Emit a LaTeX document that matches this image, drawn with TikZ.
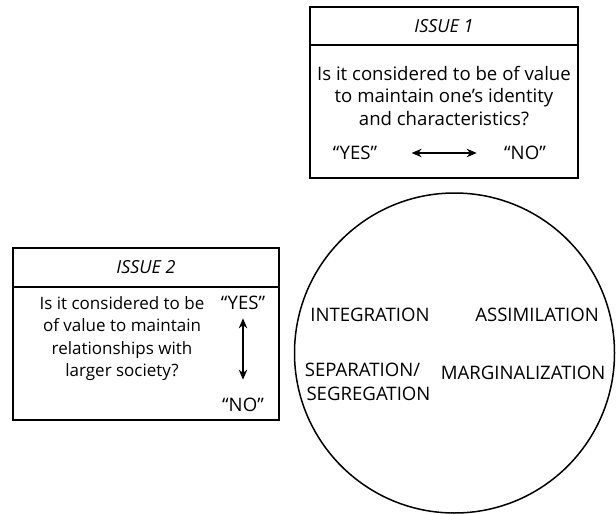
\documentclass[tikz,border=0pt]{standalone}
\usepackage{fontspec}
\setmainfont{Open Sans}
\usetikzlibrary{arrows.meta,positioning}
\tikzset{
    header/.style={
        rectangle,
        draw=black,
        line width=1.5pt,
        inner sep=0pt,
        outer sep=0pt,
        font=\fontsize{18}{21}\selectfont\itshape
    },
    body/.style={
        rectangle,
        draw=black,
        line width=1.5pt,
        minimum height=133pt,
        inner sep=0pt,
        outer sep=0pt
    },
    question/.style={align=center, font=\fontsize{18.6}{22.5}\selectfont},
    answer/.style={font=\fontsize{18.6}{21}\selectfont},
    strategy/.style={align=center, font=\fontsize{18.6}{24}\selectfont},
    twoway/.style={
        {Stealth[length=10pt,width=8.5pt]}-{Stealth[length=10pt,width=8.5pt]},
        line width=1.2pt
    }
}

\begin{document}
\begin{tikzpicture}[x=1pt, y=-1pt]
        \useasboundingbox (0,0) rectangle (616,514);

        % Issue 1
        \node (issue1) [header, minimum width=268pt, minimum height=38pt] at (444,26) {ISSUE 1};
        \node (body1) [body, minimum width=268pt, below=0pt of issue1] {};
        \node (q1) [question] at (444,96) {Is it considered to be of value\\to maintain one’s identity\\and characteristics?};
        \node (yes1) [answer] at (355,153) {“YES”};
        \node (no1) [answer] at (525,153) {“NO”};

        % Issue 2
        \node (issue2) [header, minimum width=266pt, minimum height=39pt] at (146,267.5) {ISSUE 2};
        \node (body2) [body, minimum width=266pt, below=0pt of issue2] {};
        \node (q2) [question, font=\fontsize{17}{22.3}\selectfont] at (122,338.5) {Is it considered to be\\of value to maintain\\relationships with\\larger society?};
        \node (yes2) [answer] at (243,303) {“YES”};
        \node (no2) [answer] at (243,405) {“NO”};

        % Acculturation strategies
        \node (strategies) [circle, draw, line width=1.5pt, minimum size=320pt] at (454.5,353) {};
        \node (integration) [strategy] at (370,315) {INTEGRATION};
        \node (assimilation) [strategy] at (537,315) {ASSIMILATION};
        \node (separation) [strategy, anchor=north west] at (291,359) {SEPARATION/\\\hspace*{12pt}SEGREGATION};
        \node (marginalization) [strategy] at (523,373) {MARGINALIZATION};

        % Arrows
        \draw [twoway, shorten <=31pt, shorten >=24pt] (yes1) -- (no1);
        \draw [twoway, shorten <=5pt, shorten >=15pt] (yes2) -- (no2);

    \end{tikzpicture}
\end{document}
